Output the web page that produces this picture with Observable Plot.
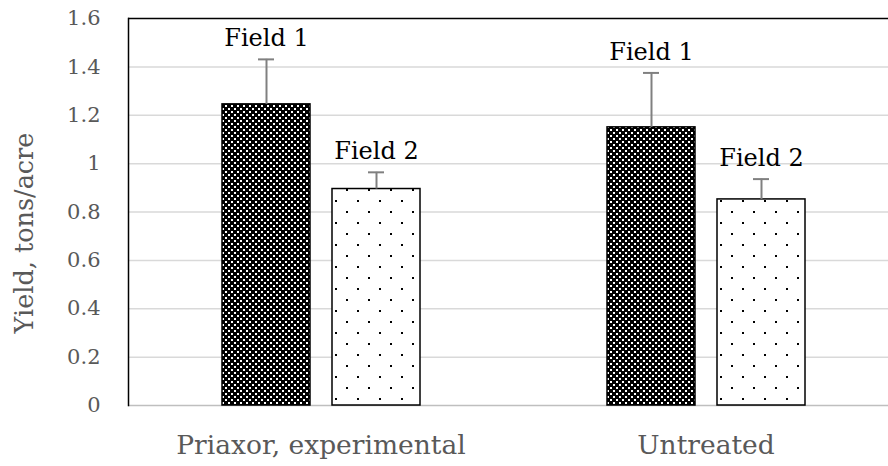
<!DOCTYPE html>
<html><head><meta charset="utf-8">
<script src="https://cdn.jsdelivr.net/npm/d3@7"></script>
<script src="https://cdn.jsdelivr.net/npm/@observablehq/plot@0.6"></script>
<style>body{margin:0;background:#fff}</style>
</head><body><div id="chart"></div>
<script>
const categories = ["Priaxor, experimental", "Untreated"];
const fields = ["Field 1", "Field 2"];
const field1Yield = [1.245, 1.15];
const field2Yield = [0.895, 0.852];
const field1Error = [0.186, 0.225];
const field2Error = [0.069, 0.084];
const yTicks = [0, 0.2, 0.4, 0.6, 0.8, 1.0, 1.2, 1.4, 1.6];
const yLabel = "Yield, tons/acre";

const rows = categories.flatMap((c, i) => [
  {category: c, field: fields[0], value: field1Yield[i], err: field1Error[i]},
  {category: c, field: fields[1], value: field2Yield[i], err: field2Error[i]}
]);
const f1 = rows.filter(d => d.field === fields[0]);
const f2 = rows.filter(d => d.field === fields[1]);

const plot = Plot.plot({
  width: 888, height: 466,
  marginLeft: 128, marginRight: 0, marginTop: 18, marginBottom: 61,
  style: {fontFamily: "'DejaVu Serif', serif", background: "white"},
  fx: {domain: categories, range: [128, 898], paddingInner: 0, paddingOuter: 0, label: null},
  x: {domain: fields, paddingInner: 0.2, paddingOuter: 0.85, align: 0.5, axis: null},
  y: {domain: [0, 1.6], label: null},
  marks: [
    Plot.ruleY(yTicks.slice(1, -1), {stroke: "#d9d9d9", strokeWidth: 1.5}),
    Plot.ruleY([0], {stroke: "#bfbfbf", strokeWidth: 1.5}),
    Plot.ruleY([1.6], {stroke: "black", strokeWidth: 1.5}),
    Plot.frame({anchor: "left", stroke: "black", strokeWidth: 1.5, facetAnchor: "left"}),
    Plot.barY(f1, {fx: "category", x: "field", y: "value", fill: "url(#dense)", stroke: "black", strokeWidth: 1.5}),
    Plot.barY(f2, {fx: "category", x: "field", y: "value", fill: "url(#dots)", stroke: "black", strokeWidth: 1.5}),
    Plot.ruleX(rows, {fx: "category", x: "field", y1: "value", y2: d => d.value + d.err, stroke: "#808080", strokeWidth: 2}),
    Plot.tickY(rows, {fx: "category", x: "field", y: d => d.value + d.err, stroke: "#808080", strokeWidth: 2, insetLeft: 36, insetRight: 36}),
    Plot.text(rows, {fx: "category", x: "field", y: d => d.value + d.err, text: "field", dy: -13, lineAnchor: "bottom", fontSize: 24, fill: "black"}),
    Plot.axisY({ticks: yTicks, tickSize: 0, tickPadding: 28, tickFormat: d3.format("~g"), fontSize: 21, color: "#595959", label: null}),
    Plot.axisFx({anchor: "bottom", tickSize: 0, tickPadding: 30, fontSize: 26.5, color: "#595959", label: null}),
    Plot.text([yLabel], {frameAnchor: "left", textAnchor: "middle", lineAnchor: "middle", rotate: -90, dx: -104, dy: 21, fontSize: 25.5, fill: "#595959", facetAnchor: "left"})
  ]
});

d3.select(plot).insert("defs", ":first-child").html(`
  <pattern id="dense" width="6" height="6" patternUnits="userSpaceOnUse">
    <rect width="6" height="6" fill="black" shape-rendering="crispEdges"/>
    <rect x="0" y="0" width="2" height="2" fill="white" shape-rendering="crispEdges"/>
    <rect x="3" y="3" width="2" height="2" fill="white" shape-rendering="crispEdges"/>
  </pattern>
  <pattern id="dots" width="22" height="22" patternUnits="userSpaceOnUse">
    <rect width="22" height="22" fill="white" shape-rendering="crispEdges"/>
    <rect x="5" y="2" width="2" height="2" fill="black" shape-rendering="crispEdges"/>
    <rect x="16" y="13" width="2" height="2" fill="black" shape-rendering="crispEdges"/>
  </pattern>`);

document.getElementById("chart").appendChild(plot);
</script>
</body></html>
